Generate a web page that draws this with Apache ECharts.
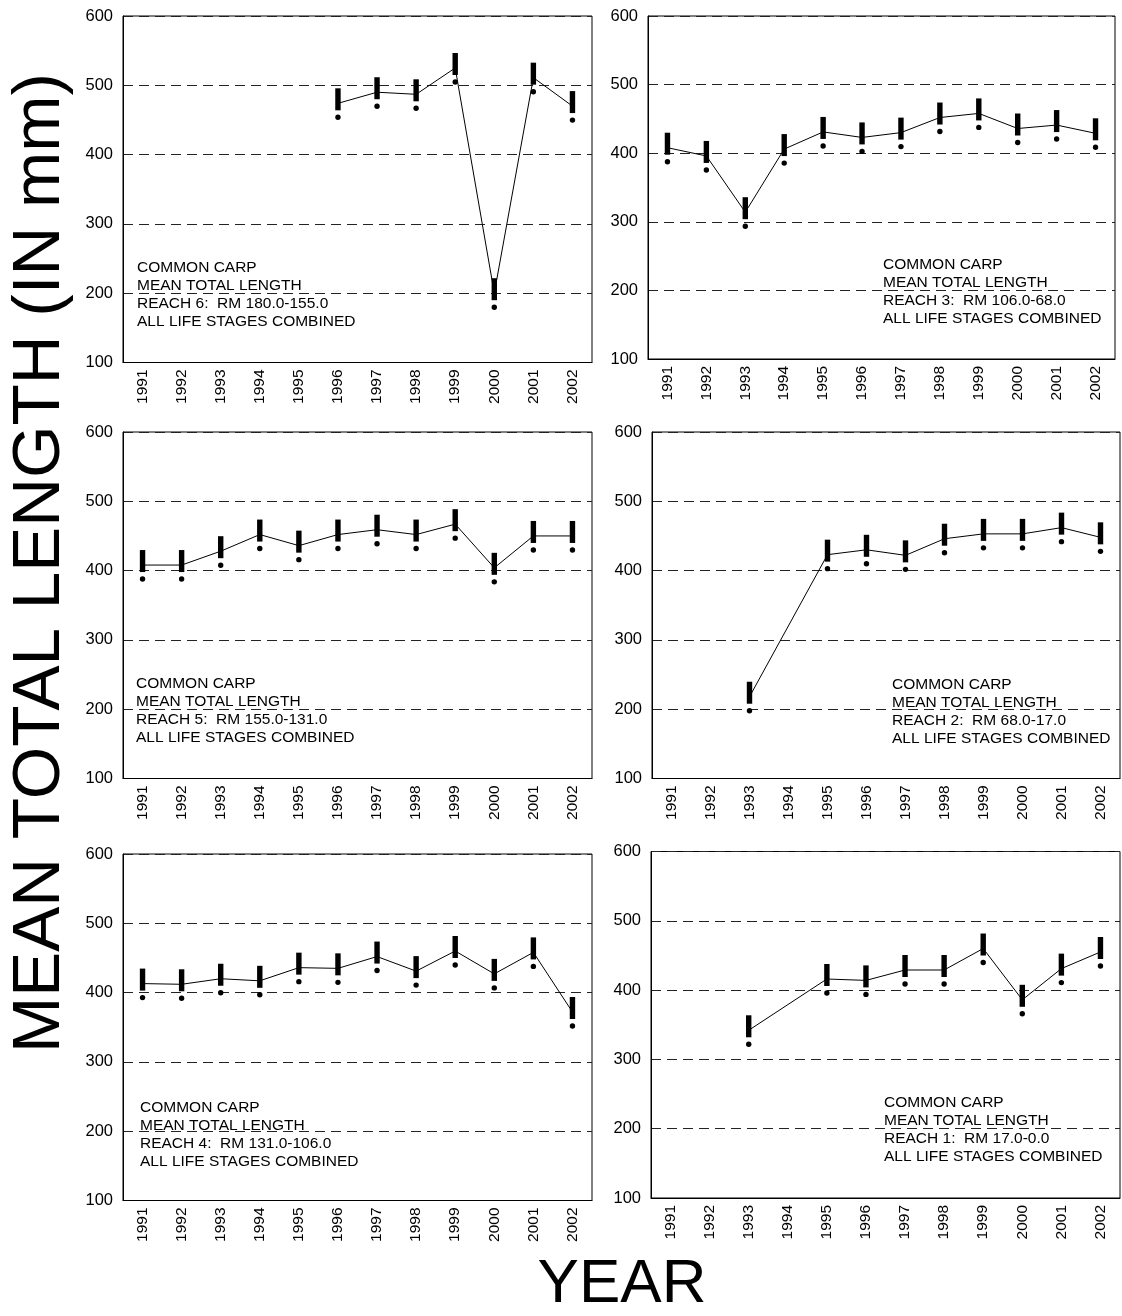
<!DOCTYPE html>
<html>
<head>
<meta charset="utf-8">
<script src="https://cdn.jsdelivr.net/npm/echarts@6/dist/echarts.min.js"></script>
<style>
html,body{margin:0;padding:0;background:#fff;}
#chart{width:1122px;height:1316px;}
</style>
</head>
<body>
<div id="chart"></div>
<script>
// ---------- DATA ----------
const years = ['1991','1992','1993','1994','1995','1996','1997','1998','1999','2000','2001','2002'];
const yTicks = [100, 200, 300, 400, 500, 600];

const reach6 = [null, null, null, null, null, 474, 490, 487, 525, 200, 511, 470];
const reach3 = [408, 396, 314, 406, 431, 423, 430, 452, 458, 436, 441, 429];
const reach5 = [408, 408, 428, 452, 436, 452, 459, 452, 467, 404, 450, 450];
const reach2 = [null, null, 218, null, 423, 430, 422, 446, 453, 453, 462, 448];
const reach4 = [413, 412, 420, 417, 436, 435, 452, 431, 460, 427, 458, 372];
const reach1 = [null, null, 342, null, 416, 414, 429, 429, 460, 386, 431, 455];

const labels6 = ['COMMON CARP', 'MEAN TOTAL LENGTH', 'REACH 6:  RM 180.0-155.0', 'ALL LIFE STAGES COMBINED'];
const labels3 = ['COMMON CARP', 'MEAN TOTAL LENGTH', 'REACH 3:  RM 106.0-68.0', 'ALL LIFE STAGES COMBINED'];
const labels5 = ['COMMON CARP', 'MEAN TOTAL LENGTH', 'REACH 5:  RM 155.0-131.0', 'ALL LIFE STAGES COMBINED'];
const labels2 = ['COMMON CARP', 'MEAN TOTAL LENGTH', 'REACH 2:  RM 68.0-17.0', 'ALL LIFE STAGES COMBINED'];
const labels4 = ['COMMON CARP', 'MEAN TOTAL LENGTH', 'REACH 4:  RM 131.0-106.0', 'ALL LIFE STAGES COMBINED'];
const labels1 = ['COMMON CARP', 'MEAN TOTAL LENGTH', 'REACH 1:  RM 17.0-0.0', 'ALL LIFE STAGES COMBINED'];

const yAxisTitle = 'MEAN TOTAL LENGTH (IN mm)';
const xAxisTitle = 'YEAR';

// ---------- LAYOUT ----------
const FONT = '"Liberation Sans", Arial, Helvetica, sans-serif';
const panels = [
  {data: reach6, labels: labels6, grid: {left: 123, top: 16, width: 469, height: 346.5}, text: [137, 259]},
  {data: reach3, labels: labels3, grid: {left: 648, top: 16, width: 467, height: 343}, text: [883, 256]},
  {data: reach5, labels: labels5, grid: {left: 123, top: 432, width: 469, height: 346.5}, text: [136, 675]},
  {data: reach2, labels: labels2, grid: {left: 652, top: 432, width: 468, height: 346.5}, text: [892, 676]},
  {data: reach4, labels: labels4, grid: {left: 123, top: 854, width: 469, height: 346.5}, text: [140, 1099]},
  {data: reach1, labels: labels1, grid: {left: 651, top: 851.5, width: 469, height: 346.5}, text: [884, 1094]}
];

const grids = [], xAxes = [], yAxes = [], series = [], graphics = [];

panels.forEach((p, i) => {
  grids.push(Object.assign({show: true, borderColor: '#000', borderWidth: 1, backgroundColor: '#fff'}, p.grid));
  xAxes.push({
    type: 'category', gridIndex: i, data: years, boundaryGap: true,
    axisLine: {show: true, lineStyle: {color: '#000', width: 1}},
    axisTick: {show: false},
    axisLabel: {rotate: 90, fontSize: 15.5, color: '#000', fontFamily: FONT, margin: 7, interval: 0},
    splitLine: {show: false}
  });
  yAxes.push({
    type: 'value', gridIndex: i, min: yTicks[0], max: yTicks[yTicks.length - 1], interval: 100,
    axisLine: {show: true, lineStyle: {color: '#000', width: 1}},
    axisTick: {show: false},
    axisLabel: {fontSize: 16.5, color: '#000', fontFamily: FONT, margin: 10},
    splitLine: {show: true, lineStyle: {color: '#222', type: [10, 6], width: 1}}
  });
  const pts = p.data.map((v, k) => [k, v]);
  series.push({
    type: 'line', xAxisIndex: i, yAxisIndex: i, data: pts,
    connectNulls: true, symbol: 'none', silent: true,
    lineStyle: {color: '#000', width: 1}, z: 3
  });
  series.push({
    type: 'custom', xAxisIndex: i, yAxisIndex: i, silent: true, z: 4,
    data: pts.filter(d => d[1] != null),
    renderItem: function (params, api) {
      const c = api.coord([api.value(0), api.value(1)]);
      return {
        type: 'group',
        children: [
          {type: 'rect', shape: {x: c[0] - 2.7, y: c[1] - 15, width: 5.4, height: 22}, style: {fill: '#000'}},
          {type: 'circle', shape: {cx: c[0], cy: c[1] + 14, r: 2.7}, style: {fill: '#000'}}
        ]
      };
    }
  });
  graphics.push({
    type: 'text', left: p.text[0], top: p.text[1], z: 10,
    style: {text: p.labels.join('\n'), fontSize: 15.5, lineHeight: 18, fill: '#000', fontFamily: FONT}
  });
});

graphics.push({
  type: 'text', x: 40, y: 563, rotation: Math.PI / 2, z: 10,
  style: {text: yAxisTitle, fontSize: 67.5, fill: '#000', fontFamily: FONT, align: 'center', verticalAlign: 'middle'}
});
graphics.push({
  type: 'text', x: 622, y: 1285, z: 10,
  style: {text: xAxisTitle, fontSize: 62, fill: '#000', fontFamily: FONT, align: 'center', verticalAlign: 'middle'}
});

const chart = echarts.init(document.getElementById('chart'), null, {renderer: 'canvas'});
chart.setOption({
  animation: false,
  backgroundColor: '#fff',
  grid: grids,
  xAxis: xAxes,
  yAxis: yAxes,
  series: series,
  graphic: graphics
});
</script>
</body>
</html>
